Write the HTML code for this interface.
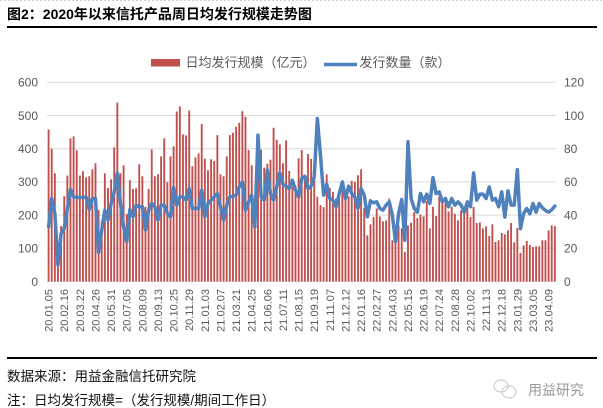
<!DOCTYPE html>
<html><head><meta charset="utf-8"><style>
html,body{margin:0;padding:0;background:#fff;}
svg{display:block;font-family:"Liberation Sans","Noto Sans CJK SC",sans-serif;}
</style></head><body>
<svg width="603" height="408" viewBox="0 0 603 408" xmlns="http://www.w3.org/2000/svg">
<rect x="0" y="0" width="603" height="408" fill="#fff"/>
<line x1="0" y1="0.5" x2="603" y2="0.5" stroke="#d0d0d0" stroke-dasharray="2,2"/>
<text x="7" y="19" font-size="14" font-weight="bold" fill="#000" font-family="'Liberation Sans','Noto Sans CJK SC',sans-serif">图2：2020年以来信托产品周日均发行规模走势图</text>
<line x1="7" y1="27" x2="597" y2="27" stroke="#000" stroke-width="2"/>
<!-- legend -->
<rect x="151" y="59" width="29" height="7.5" fill="#C0504D"/>
<text x="185.5" y="67" font-size="13" fill="#595959">日均发行规模（亿元）</text>
<line x1="324" y1="64.5" x2="357" y2="64.5" stroke="#4F81BD" stroke-width="3.5"/>
<text x="359.5" y="67" font-size="13" fill="#595959">发行数量（款）</text>
<!-- grid -->
<g stroke="#D9D9D9" stroke-width="1">
<line x1="47" y1="82.3" x2="556" y2="82.3"/>
<line x1="47" y1="115.5" x2="556" y2="115.5"/>
<line x1="47" y1="148.7" x2="556" y2="148.7"/>
<line x1="47" y1="181.9" x2="556" y2="181.9"/>
<line x1="47" y1="215.1" x2="556" y2="215.1"/>
<line x1="47" y1="248.3" x2="556" y2="248.3"/>
<line x1="47" y1="281.5" x2="556" y2="281.5"/>
</g>
<g font-size="12" fill="#595959" text-anchor="end">
<text x="38" y="86.6">600</text><text x="38" y="119.8">500</text><text x="38" y="153">400</text><text x="38" y="186.2">300</text><text x="38" y="219.4">200</text><text x="38" y="252.6">100</text><text x="38" y="285.8">0</text>
</g>
<g font-size="12" fill="#595959">
<text x="564" y="86.6">120</text><text x="564" y="119.8">100</text><text x="564" y="153">80</text><text x="564" y="186.2">60</text><text x="564" y="219.4">40</text><text x="564" y="252.6">20</text><text x="564" y="285.8">0</text>
</g>
<!-- bars -->
<g transform="translate(48.6,281.5) scale(3.125,-0.332)" fill="#C0504D">
<rect x="-0.3" width="0.6" y="0" height="458"/><rect x="0.7" width="0.6" y="0" height="400"/><rect x="1.7" width="0.6" y="0" height="326"/><rect x="2.7" width="0.6" y="0" height="60"/><rect x="3.7" width="0.6" y="0" height="167"/><rect x="4.7" width="0.6" y="0" height="257"/><rect x="5.7" width="0.6" y="0" height="319"/><rect x="6.7" width="0.6" y="0" height="431"/><rect x="7.7" width="0.6" y="0" height="437"/><rect x="8.7" width="0.6" y="0" height="395"/>
<rect x="9.7" width="0.6" y="0" height="319"/><rect x="10.7" width="0.6" y="0" height="332"/><rect x="11.7" width="0.6" y="0" height="314"/><rect x="12.7" width="0.6" y="0" height="317"/><rect x="13.7" width="0.6" y="0" height="338"/><rect x="14.7" width="0.6" y="0" height="356"/><rect x="15.7" width="0.6" y="0" height="215"/><rect x="16.7" width="0.6" y="0" height="183"/><rect x="17.7" width="0.6" y="0" height="326"/><rect x="18.7" width="0.6" y="0" height="282"/>
<rect x="19.7" width="0.6" y="0" height="308"/><rect x="20.7" width="0.6" y="0" height="404"/><rect x="21.7" width="0.6" y="0" height="539"/><rect x="22.7" width="0.6" y="0" height="326"/><rect x="23.7" width="0.6" y="0" height="350"/><rect x="24.7" width="0.6" y="0" height="203"/><rect x="25.7" width="0.6" y="0" height="305"/><rect x="26.7" width="0.6" y="0" height="279"/><rect x="27.7" width="0.6" y="0" height="281"/><rect x="28.7" width="0.6" y="0" height="353"/>
<rect x="29.7" width="0.6" y="0" height="317"/><rect x="30.7" width="0.6" y="0" height="225"/><rect x="31.7" width="0.6" y="0" height="279"/><rect x="32.7" width="0.6" y="0" height="398"/><rect x="33.7" width="0.6" y="0" height="317"/><rect x="34.7" width="0.6" y="0" height="323"/><rect x="35.7" width="0.6" y="0" height="377"/><rect x="36.7" width="0.6" y="0" height="431"/><rect x="37.7" width="0.6" y="0" height="299"/><rect x="38.7" width="0.6" y="0" height="377"/>
<rect x="39.7" width="0.6" y="0" height="407"/><rect x="40.7" width="0.6" y="0" height="512"/><rect x="41.7" width="0.6" y="0" height="527"/><rect x="42.7" width="0.6" y="0" height="443"/><rect x="43.7" width="0.6" y="0" height="440"/><rect x="44.7" width="0.6" y="0" height="515"/><rect x="45.7" width="0.6" y="0" height="347"/><rect x="46.7" width="0.6" y="0" height="374"/><rect x="47.7" width="0.6" y="0" height="386"/><rect x="48.7" width="0.6" y="0" height="474"/>
<rect x="49.7" width="0.6" y="0" height="370"/><rect x="50.7" width="0.6" y="0" height="335"/><rect x="51.7" width="0.6" y="0" height="368"/><rect x="52.7" width="0.6" y="0" height="363"/><rect x="53.7" width="0.6" y="0" height="441"/><rect x="54.7" width="0.6" y="0" height="323"/><rect x="55.7" width="0.6" y="0" height="317"/><rect x="56.7" width="0.6" y="0" height="377"/><rect x="57.7" width="0.6" y="0" height="441"/><rect x="58.7" width="0.6" y="0" height="448"/>
<rect x="59.7" width="0.6" y="0" height="466"/><rect x="60.7" width="0.6" y="0" height="478"/><rect x="61.7" width="0.6" y="0" height="513"/><rect x="62.7" width="0.6" y="0" height="496"/><rect x="63.7" width="0.6" y="0" height="396"/><rect x="64.7" width="0.6" y="0" height="350"/><rect x="65.7" width="0.6" y="0" height="180"/><rect x="66.7" width="0.6" y="0" height="441"/><rect x="67.7" width="0.6" y="0" height="397"/><rect x="68.7" width="0.6" y="0" height="343"/>
<rect x="69.7" width="0.6" y="0" height="355"/><rect x="70.7" width="0.6" y="0" height="367"/><rect x="71.7" width="0.6" y="0" height="463"/><rect x="72.7" width="0.6" y="0" height="427"/><rect x="73.7" width="0.6" y="0" height="413"/><rect x="74.7" width="0.6" y="0" height="356"/><rect x="75.7" width="0.6" y="0" height="425"/><rect x="76.7" width="0.6" y="0" height="333"/><rect x="77.7" width="0.6" y="0" height="285"/><rect x="78.7" width="0.6" y="0" height="290"/>
<rect x="79.7" width="0.6" y="0" height="371"/><rect x="80.7" width="0.6" y="0" height="396"/><rect x="81.7" width="0.6" y="0" height="305"/><rect x="82.7" width="0.6" y="0" height="384"/><rect x="83.7" width="0.6" y="0" height="369"/><rect x="84.7" width="0.6" y="0" height="315"/><rect x="85.7" width="0.6" y="0" height="255"/><rect x="86.7" width="0.6" y="0" height="230"/><rect x="87.7" width="0.6" y="0" height="224"/><rect x="88.7" width="0.6" y="0" height="323"/>
<rect x="89.7" width="0.6" y="0" height="282"/><rect x="90.7" width="0.6" y="0" height="270"/><rect x="91.7" width="0.6" y="0" height="250"/><rect x="92.7" width="0.6" y="0" height="265"/><rect x="93.7" width="0.6" y="0" height="275"/><rect x="94.7" width="0.6" y="0" height="265"/><rect x="95.7" width="0.6" y="0" height="257"/><rect x="96.7" width="0.6" y="0" height="303"/><rect x="97.7" width="0.6" y="0" height="300"/><rect x="98.7" width="0.6" y="0" height="320"/>
<rect x="99.7" width="0.6" y="0" height="338"/><rect x="100.7" width="0.6" y="0" height="222"/><rect x="101.7" width="0.6" y="0" height="139"/><rect x="102.7" width="0.6" y="0" height="172"/><rect x="103.7" width="0.6" y="0" height="194"/><rect x="104.7" width="0.6" y="0" height="220"/><rect x="105.7" width="0.6" y="0" height="196"/><rect x="106.7" width="0.6" y="0" height="181"/><rect x="107.7" width="0.6" y="0" height="184"/><rect x="108.7" width="0.6" y="0" height="250"/>
<rect x="109.7" width="0.6" y="0" height="124"/><rect x="110.7" width="0.6" y="0" height="119"/><rect x="111.7" width="0.6" y="0" height="169"/><rect x="112.7" width="0.6" y="0" height="160"/><rect x="113.7" width="0.6" y="0" height="89"/><rect x="114.7" width="0.6" y="0" height="169"/><rect x="115.7" width="0.6" y="0" height="177"/><rect x="116.7" width="0.6" y="0" height="209"/><rect x="117.7" width="0.6" y="0" height="191"/><rect x="118.7" width="0.6" y="0" height="202"/>
<rect x="119.7" width="0.6" y="0" height="196"/><rect x="120.7" width="0.6" y="0" height="243"/><rect x="121.7" width="0.6" y="0" height="160"/><rect x="122.7" width="0.6" y="0" height="225"/><rect x="123.7" width="0.6" y="0" height="197"/><rect x="124.7" width="0.6" y="0" height="255"/><rect x="125.7" width="0.6" y="0" height="237"/><rect x="126.7" width="0.6" y="0" height="238"/><rect x="127.7" width="0.6" y="0" height="211"/><rect x="128.7" width="0.6" y="0" height="225"/>
<rect x="129.7" width="0.6" y="0" height="204"/><rect x="130.7" width="0.6" y="0" height="184"/><rect x="131.7" width="0.6" y="0" height="214"/><rect x="132.7" width="0.6" y="0" height="206"/><rect x="133.7" width="0.6" y="0" height="227"/><rect x="134.7" width="0.6" y="0" height="194"/><rect x="135.7" width="0.6" y="0" height="225"/><rect x="136.7" width="0.6" y="0" height="176"/><rect x="137.7" width="0.6" y="0" height="178"/><rect x="138.7" width="0.6" y="0" height="160"/>
<rect x="139.7" width="0.6" y="0" height="166"/><rect x="140.7" width="0.6" y="0" height="137"/><rect x="141.7" width="0.6" y="0" height="172"/><rect x="142.7" width="0.6" y="0" height="119"/><rect x="143.7" width="0.6" y="0" height="124"/><rect x="144.7" width="0.6" y="0" height="146"/><rect x="145.7" width="0.6" y="0" height="142"/><rect x="146.7" width="0.6" y="0" height="154"/><rect x="147.7" width="0.6" y="0" height="176"/><rect x="148.7" width="0.6" y="0" height="118"/>
<rect x="149.7" width="0.6" y="0" height="161"/><rect x="150.7" width="0.6" y="0" height="86"/><rect x="151.7" width="0.6" y="0" height="109"/><rect x="152.7" width="0.6" y="0" height="122"/><rect x="153.7" width="0.6" y="0" height="110"/><rect x="154.7" width="0.6" y="0" height="104"/><rect x="155.7" width="0.6" y="0" height="106"/><rect x="156.7" width="0.6" y="0" height="106"/><rect x="157.7" width="0.6" y="0" height="124"/><rect x="158.7" width="0.6" y="0" height="124"/>
<rect x="159.7" width="0.6" y="0" height="154"/><rect x="160.7" width="0.6" y="0" height="169"/><rect x="161.7" width="0.6" y="0" height="167"/>
<polyline fill="none" stroke="#4F81BD" stroke-width="3.5" stroke-linejoin="round" stroke-linecap="round" vector-effect="non-scaling-stroke" points="0,165 1,250 2,205 3,50 4,145 5,160 6,220 7,277 8,255 9,253 10,253 11,253 12,255 13,217 14,250 15,250 16,87 17,155 18,215 19,185 20,235 21,270 22,327 23,235 24,165 25,120 26,217 27,195 28,230 29,225 30,225 31,155 32,215 33,235 34,225 35,185 36,230 37,230 38,205 39,195 40,283 41,230 42,255 43,255 44,245 45,280 46,220 47,220 48,220 49,275 50,195 51,235 52,245 53,255 54,265 55,225 56,185 57,230 58,255 59,257 60,260 61,285 62,300 63,215 64,240 65,260 66,164 67,441 68,255 69,245 70,336 71,265 72,245 73,285 74,327 75,293 76,287 77,280 78,305 79,275 80,255 81,310 82,317 83,280 84,287 85,315 86,491 87,380 88,260 89,293 90,250 91,245 92,225 93,265 94,300 95,250 96,287 97,265 98,255 99,220 100,280 101,260 102,195 103,243 104,237 105,240 106,220 107,215 108,230 109,240 110,200 111,120 112,205 113,247 114,124 115,421 116,250 117,220 118,209 119,265 120,240 121,263 122,235 123,313 124,265 125,270 126,240 127,250 128,225 129,250 130,230 131,240 132,230 133,209 134,240 135,225 136,327 137,245 138,263 139,263 140,250 141,285 142,245 143,250 144,225 145,270 146,194 147,273 148,230 149,230 150,337 151,159 152,204 153,220 154,204 155,235 156,209 157,235 158,222 159,214 160,209 161,216 162,227"/>
</g>
<!-- x labels -->
<g font-size="11" fill="#595959" text-anchor="end">
<text transform="translate(52.6,289) rotate(-90)">20.01.05</text>
<text transform="translate(68.2,289) rotate(-90)">20.02.16</text>
<text transform="translate(83.9,289) rotate(-90)">20.03.22</text>
<text transform="translate(99.5,289) rotate(-90)">20.04.26</text>
<text transform="translate(115.1,289) rotate(-90)">20.05.31</text>
<text transform="translate(130.7,289) rotate(-90)">20.07.05</text>
<text transform="translate(146.4,289) rotate(-90)">20.08.09</text>
<text transform="translate(162,289) rotate(-90)">20.09.13</text>
<text transform="translate(177.6,289) rotate(-90)">20.10.25</text>
<text transform="translate(193.2,289) rotate(-90)">20.11.29</text>
<text transform="translate(208.9,289) rotate(-90)">21.01.03</text>
<text transform="translate(224.5,289) rotate(-90)">21.02.07</text>
<text transform="translate(240.1,289) rotate(-90)">21.03.21</text>
<text transform="translate(255.7,289) rotate(-90)">21.04.25</text>
<text transform="translate(271.4,289) rotate(-90)">21.06.06</text>
<text transform="translate(287,289) rotate(-90)">21.07.11</text>
<text transform="translate(302.6,289) rotate(-90)">21.08.15</text>
<text transform="translate(318.2,289) rotate(-90)">21.09.19</text>
<text transform="translate(333.9,289) rotate(-90)">21.11.07</text>
<text transform="translate(349.5,289) rotate(-90)">21.12.12</text>
<text transform="translate(365.1,289) rotate(-90)">22.01.16</text>
<text transform="translate(380.7,289) rotate(-90)">22.02.27</text>
<text transform="translate(396.4,289) rotate(-90)">22.04.03</text>
<text transform="translate(412,289) rotate(-90)">22.05.15</text>
<text transform="translate(427.6,289) rotate(-90)">22.06.19</text>
<text transform="translate(443.2,289) rotate(-90)">22.07.24</text>
<text transform="translate(458.9,289) rotate(-90)">22.08.28</text>
<text transform="translate(474.5,289) rotate(-90)">22.10.02</text>
<text transform="translate(490.1,289) rotate(-90)">22.11.13</text>
<text transform="translate(505.7,289) rotate(-90)">22.12.18</text>
<text transform="translate(521.4,289) rotate(-90)">23.01.29</text>
<text transform="translate(537,289) rotate(-90)">23.03.05</text>
<text transform="translate(552.6,289) rotate(-90)">23.04.09</text>
</g>
<!-- footer -->
<line x1="7" y1="358" x2="597" y2="358" stroke="#000" stroke-width="2"/>
<text x="7" y="381" font-size="13.5" fill="#111">数据来源：用益金融信托研究院</text>
<text x="7" y="405" font-size="13.5" fill="#111">注：日均发行规模=（发行规模/期间工作日）</text>
<g fill="none" stroke="#c8c8c8" stroke-width="1">
<ellipse cx="501" cy="386" rx="7" ry="6"/>
<ellipse cx="509" cy="392" rx="7" ry="6"/>
</g>
<text x="528" y="395" font-size="14" fill="#999">用益研究</text>
</svg>
</body></html>
